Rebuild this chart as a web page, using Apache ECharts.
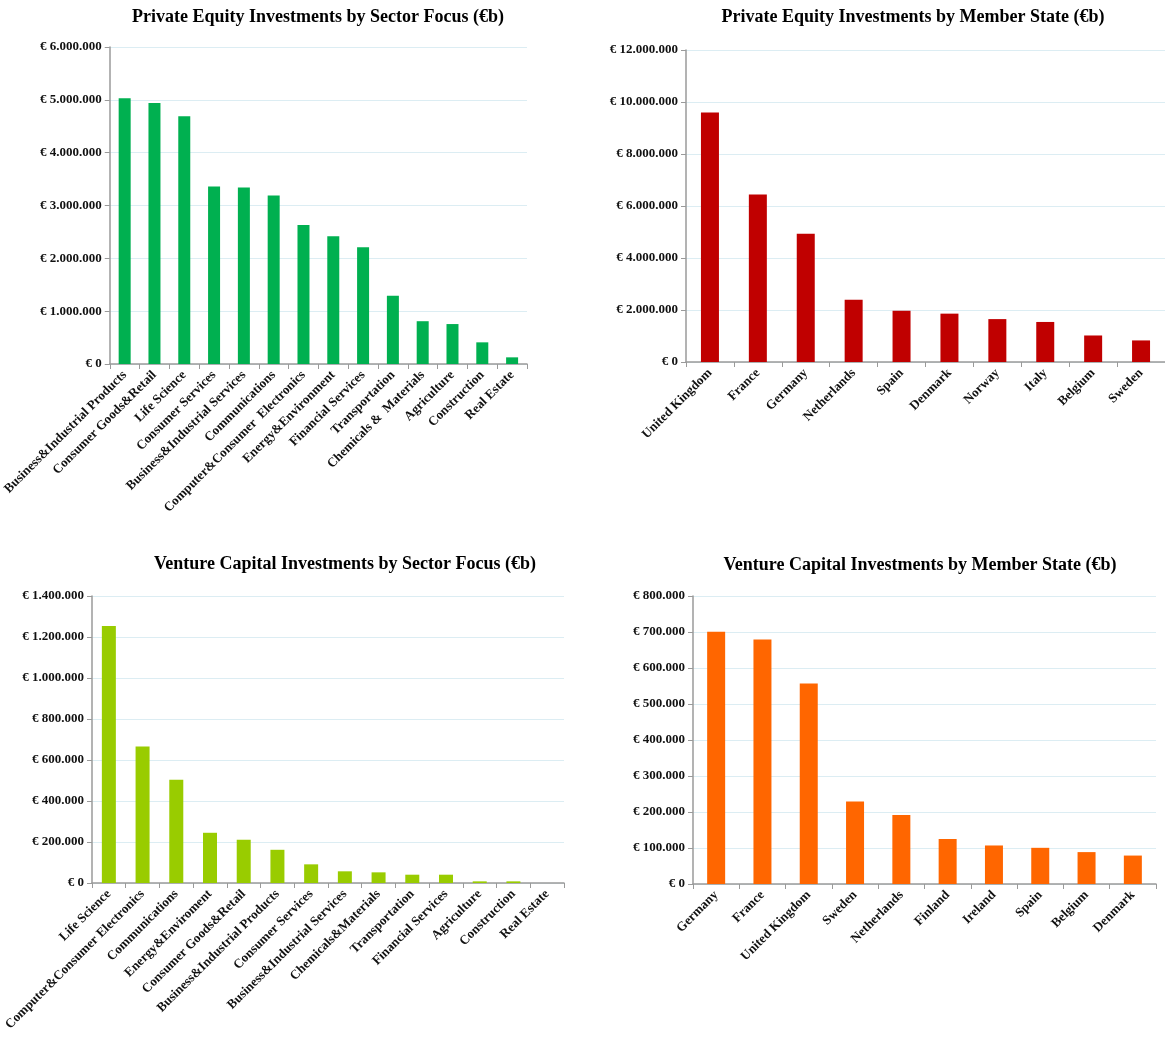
<!DOCTYPE html>
<html>
<head>
<meta charset="utf-8">
<title>Private Equity and Venture Capital Investments</title>
<script src="https://cdn.jsdelivr.net/npm/echarts@6/dist/echarts.min.js"></script>
<style>
  html, body { margin: 0; padding: 0; background: #ffffff; }
  #chart { width: 1165px; height: 1063px; }
</style>
</head>
<body>
<div id="chart"></div>
<script>
// Private equity by sector focus
const peSectors = ['Business&Industrial Products', 'Consumer Goods&Retail', 'Life Science', 'Consumer Services',
  'Business&Industrial Services', 'Communications', 'Computer&Consumer  Electronics', 'Energy&Environment',
  'Financial Services', 'Transportation', 'Chemicals &  Materials', 'Agriculture', 'Construction', 'Real Estate'];
const peSectorValues = [5030000, 4940000, 4690000, 3360000, 3340000, 3190000, 2630000, 2420000,
  2210000, 1290000, 810000, 756000, 410000, 126000];

// Private equity by member state
const peStates = ['United Kingdom', 'France', 'Germany', 'Netherlands', 'Spain', 'Denmark', 'Norway', 'Italy', 'Belgium', 'Sweden'];
const peStateValues = [9600000, 6440000, 4930000, 2390000, 1970000, 1860000, 1650000, 1540000, 1020000, 830000];

// Venture capital by sector focus
const vcSectors = ['Life Science', 'Computer&Consumer Electronics', 'Communications', 'Energy&Enviroment',
  'Consumer Goods&Retail', 'Business&Industrial Products', 'Consumer Services', 'Business&Industrial Services',
  'Chemicals&Materials', 'Transportation', 'Financial Services', 'Agriculture', 'Construction', 'Real Estate'];
const vcSectorValues = [1254000, 666000, 504000, 245000, 211000, 162000, 91000, 57000, 52000, 40500, 40500, 8000, 8000, 0];

// Venture capital by member state
const vcStates = ['Germany', 'France', 'United Kingdom', 'Sweden', 'Netherlands', 'Finland', 'Ireland', 'Spain', 'Belgium', 'Denmark'];
const vcStateValues = [701000, 679000, 557000, 229000, 192000, 125000, 107000, 100500, 88600, 79000];

// Axis ranges [max, interval]
const peSectorAxis = [6000000, 1000000];
const peStateAxis = [12000000, 2000000];
const vcSectorAxis = [1400000, 200000];
const vcStateAxis = [800000, 100000];

const titles = [
  'Private Equity Investments by Sector Focus (€b)',
  'Private Equity Investments by Member State (€b)',
  'Venture Capital Investments by Sector Focus (€b)',
  'Venture Capital Investments by Member State (€b)'
];

const FONT = '"Liberation Serif", "Times New Roman", serif';

function euro(v) {
  return '€ ' + String(Math.round(v)).replace(/\B(?=(\d{3})+(?!\d))/g, '.');
}

const panels = [
  { cats: peSectors, vals: peSectorValues, axis: peSectorAxis, color: '#00b050', barWidth: 12,
    grid: { left: 106, right: 638, top: 47, bottom: 699 }, title: [318, 8] },
  { cats: peStates, vals: peStateValues, axis: peStateAxis, color: '#c00000', barWidth: 18,
    grid: { left: 686, right: 0, top: 50, bottom: 701 }, title: [913, 8] },
  { cats: vcSectors, vals: vcSectorValues, axis: vcSectorAxis, color: '#99cc00', barWidth: 14,
    grid: { left: 92, right: 601, top: 596, bottom: 180 }, title: [345, 555] },
  { cats: vcStates, vals: vcStateValues, axis: vcStateAxis, color: '#ff6600', barWidth: 18,
    grid: { left: 693, right: 9, top: 596, bottom: 179 }, title: [920, 556] }
];

const option = {
  animation: false,
  backgroundColor: '#ffffff',
  title: [], grid: [], xAxis: [], yAxis: [], series: []
};

panels.forEach((p, i) => {
  option.title.push({
    text: titles[i],
    left: p.title[0], top: p.title[1], textAlign: 'center', padding: 0,
    textStyle: { fontFamily: FONT, fontWeight: 'bold', fontSize: 18, color: '#000' }
  });
  option.grid.push(Object.assign({ containLabel: false }, p.grid));
  option.xAxis.push({
    type: 'category', gridIndex: i, data: p.cats,
    axisLine: { lineStyle: { color: '#9a9a9a', width: 1.5 } },
    axisTick: { show: true, length: 5, lineStyle: { color: '#9a9a9a' } },
    axisLabel: { interval: 0, rotate: 45, margin: 9, fontFamily: FONT, fontWeight: 'bold', fontSize: 13, color: '#111' },
    splitLine: { show: false }
  });
  option.yAxis.push({
    type: 'value', gridIndex: i, min: 0, max: p.axis[0], interval: p.axis[1],
    axisLine: { show: true, lineStyle: { color: '#9a9a9a', width: 1.5 } },
    axisTick: { show: true, length: 5, lineStyle: { color: '#9a9a9a' } },
    axisLabel: { margin: 8, formatter: euro, fontFamily: FONT, fontWeight: 'bold', fontSize: 13, color: '#111' },
    splitLine: { show: true, lineStyle: { color: '#dcedf3', width: 1 } }
  });
  option.series.push({
    type: 'bar', xAxisIndex: i, yAxisIndex: i, data: p.vals, barWidth: p.barWidth,
    itemStyle: { color: p.color }
  });
});

const chart = echarts.init(document.getElementById('chart'), null, { renderer: 'canvas' });
chart.setOption(option);
</script>
</body>
</html>
